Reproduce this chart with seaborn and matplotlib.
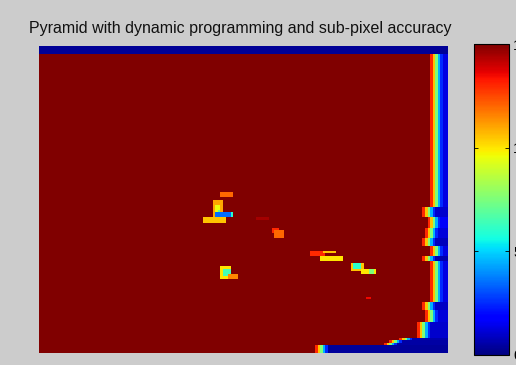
import numpy as np
import matplotlib
matplotlib.use("Agg")
import matplotlib.pyplot as plt
import seaborn as sns

plt.rcParams['font.family'] = ['Liberation Sans', 'DejaVu Sans']

title = "Pyramid with dynamic programming and sub-pixel accuracy"
cbar_ticks = [0, 5, 10, 15]
vmin, vmax = 0, 15

# disparity map size (rows x cols)
n_rows, n_cols = 120, 160
background_disparity = 15.0

# invalid band along the top rows
top_band_rows = 3
top_band_value = 0.3

# right-hand occlusion strip: row segment start, first transition column, fill value
strip_row_start = [3, 63, 67, 71, 75, 78, 82, 84, 100, 103, 108, 114, 115, 116, 117]
strip_edge_col = [153, 150, 152, 151, 150, 153, 150, 153, 150, 151, 148, 141, 137, 135, 108]
strip_fill = [1.3, 1.0, 1.6, 1.2, 0.8, 1.3, 0.6, 1.3, 0.9, 1.2, 1.0, 0.6, 0.5, 0.5, 0.4]
strip_ramp = [13.0, 10.5, 7.5, 4.5, 2.5]

# mismatched patches: row range, column range, disparity
blob_r0 = [57, 60, 62, 64, 67, 65, 65, 71, 72, 67, 80, 80, 82, 85, 87, 85, 87, 86, 87, 89, 98]
blob_r1 = [59, 67, 67, 67, 69, 67, 67, 73, 75, 68, 82, 81, 84, 88, 89, 87, 89, 91, 90, 91, 99]
blob_c0 = [71, 68, 69, 70, 64, 69, 75, 91, 92, 85, 106, 111, 110, 122, 126, 123, 129, 71, 72, 74, 128]
blob_c1 = [76, 72, 71, 71, 73, 75, 76, 94, 96, 90, 112, 116, 119, 127, 132, 126, 131, 75, 75, 78, 130]
blob_val = [12.0, 11.0, 9.5, 7.0, 10.5, 3.5, 6.0, 13.0, 12.0, 14.5, 13.0, 10.5, 10.0,
            10.5, 10.0, 6.0, 7.5, 10.0, 6.5, 11.5, 13.5]

disparity = np.full((n_rows, n_cols), background_disparity)
disparity[:top_band_rows, :] = top_band_value

seg_end = strip_row_start[1:] + [n_rows]
for r0, r1, c, fill in zip(strip_row_start, seg_end, strip_edge_col, strip_fill):
    disparity[r0:r1, c:] = fill
    for k, v in enumerate(strip_ramp):
        disparity[r0:r1, c + k] = v

for r0, r1, c0, c1, v in zip(blob_r0, blob_r1, blob_c0, blob_c1, blob_val):
    disparity[r0:r1, c0:c1] = v

W, H = 516, 365
fig = plt.figure(figsize=(W / 100, H / 100), dpi=100, facecolor='#cccccc')
ax = fig.add_axes([39 / W, 1 - 353 / H, 409 / W, 307 / H])
cax = fig.add_axes([474 / W, 1 - 355 / H, 35 / W, 311 / H])

sns.heatmap(disparity, cmap='jet', vmin=vmin, vmax=vmax, ax=ax, cbar_ax=cax,
            xticklabels=False, yticklabels=False,
            cbar_kws={'ticks': cbar_ticks}, rasterized=True)
ax.set_axis_off()

cb = ax.collections[0].colorbar
cb.outline.set_linewidth(0.8)
cb.outline.set_edgecolor('black')
cb.ax.tick_params(direction='in', left=True, right=True, length=3, width=0.6,
                  labelsize=10.5, pad=3, colors='black')
cb.ax.set_yticklabels([str(t) for t in cbar_ticks])

fig.text(240 / W, 1 - 33 / H, title, ha='center', va='baseline', fontsize=11.5, color='#111111')

fig.savefig('out.png', dpi=100, facecolor=fig.get_facecolor())
